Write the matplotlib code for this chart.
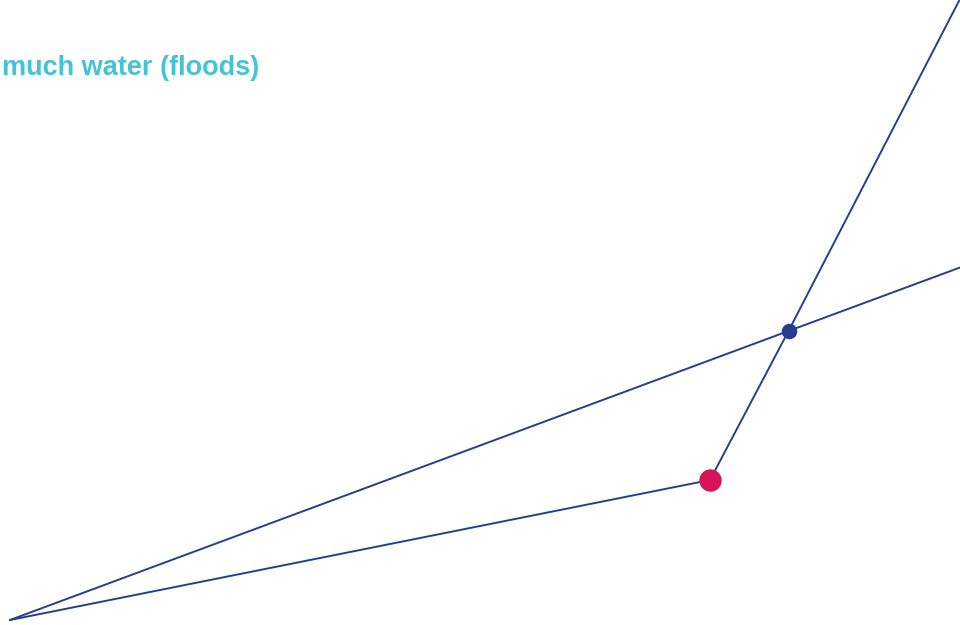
import matplotlib
matplotlib.use("Agg")
import matplotlib.pyplot as plt

# Two paths sharing one starting point (pixel-like units, y grows downward)
straight_x = [10, 788.5, 960]
straight_y = [620, 331, 267.5]
bent_x = [10, 710, 788.5, 961]
bent_y = [620, 480, 331, -3]

# Highlighted points
red_pt = (710, 480)
blue_pt = (788.5, 331)

label = "much water (floods)"

line_col = "#253f8e"
red_col = "#d7145a"
teal_col = "#45c3d6"

fig = plt.figure(figsize=(9.6, 6.25), dpi=100)
ax = fig.add_axes([0, 0, 1, 1])
ax.set_xlim(0, 960)
ax.set_ylim(625, 0)
ax.axis("off")

ax.plot(straight_x, straight_y, color=line_col, linewidth=1.4, solid_capstyle="round")
ax.plot(bent_x, bent_y, color=line_col, linewidth=1.4, solid_capstyle="round")

ax.scatter([red_pt[0]], [red_pt[1]], s=260, color=red_col, zorder=3, linewidths=0)
ax.scatter([blue_pt[0]], [blue_pt[1]], s=125, color=line_col, zorder=3, linewidths=0)

ax.text(2, 75, label, ha="left", va="baseline", color=teal_col,
        fontsize=19.5, fontweight="bold", family="Liberation Sans")

fig.savefig("out.png", dpi=100)
